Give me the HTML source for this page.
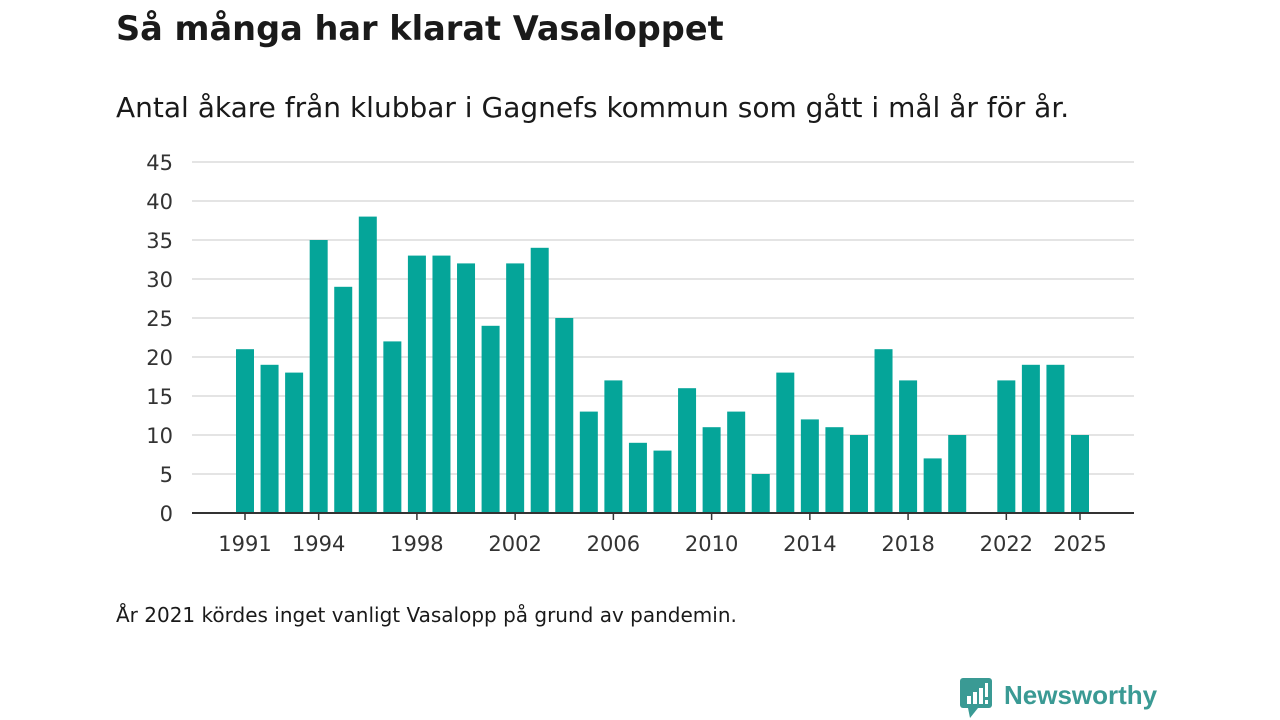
<!DOCTYPE html>
<html><head><meta charset="utf-8"><style>
body{margin:0;width:1280px;height:720px;background:#fff;font-family:"DejaVu Sans","Liberation Sans",sans-serif;color:#1a1a1a;position:relative;overflow:hidden}
#title{position:absolute;left:116px;top:9px;font-size:33.6px;font-weight:bold;margin:0}
#sub{position:absolute;left:116px;top:91px;font-size:28px;margin:0}
#note{position:absolute;left:116px;top:603px;font-size:20px}
svg{position:absolute;left:0;top:0}
#logo{position:absolute;left:960px;top:680px;font-family:"Liberation Sans",sans-serif;font-weight:bold;font-size:26px;color:#3a9a94}
</style></head><body>
<h1 id="title">Så många har klarat Vasaloppet</h1>
<p id="sub">Antal åkare från klubbar i Gagnefs kommun som gått i mål år för år.</p>
<svg id="chart" width="1280" height="720"></svg>
<div id="note">År 2021 kördes inget vanligt Vasalopp på grund av pandemin.</div>
<div id="logo"><svg width="34" height="40" style="position:absolute;left:0;top:-2px"><rect x="0" y="0" width="32" height="30" rx="3" fill="#3a9a94"/><polygon points="8,30 18,30 10,40" fill="#3a9a94"/><rect x="7" y="18" width="4" height="8" fill="#fff"/><rect x="13" y="14" width="4" height="12" fill="#fff"/><rect x="19" y="10" width="4" height="16" fill="#fff"/><rect x="25" y="5" width="3" height="14" fill="#fff"/><rect x="25" y="22" width="3" height="4" fill="#fff"/></svg><span style="margin-left:44px">Newsworthy</span></div>
<script>
const years=[1991,1992,1993,1994,1995,1996,1997,1998,1999,2000,2001,2002,2003,2004,2005,2006,2007,2008,2009,2010,2011,2012,2013,2014,2015,2016,2017,2018,2019,2020,2021,2022,2023,2024,2025];
const values=[21,19,18,35,29,38,22,33,33,32,24,32,34,25,13,17,9,8,16,11,13,5,18,12,11,10,21,17,7,10,null,17,19,19,10];
const yTicks=[0,5,10,15,20,25,30,35,40,45];
const xTicks=[1991,1994,1998,2002,2006,2010,2014,2018,2022,2025];
const NS="http://www.w3.org/2000/svg";
const svg=document.getElementById('chart');
const x=y=>245+(y-1991)*(1080-245)/34;
const yS=v=>513-v*(351/45);
function mk(t,a){const e=document.createElementNS(NS,t);for(const k in a)e.setAttribute(k,a[k]);svg.appendChild(e);return e;}
yTicks.forEach(t=>{
 const l=mk('line',{x1:192,x2:1134,y1:yS(t),y2:yS(t),stroke:'#dcdcdc','stroke-width':1.5});
 
 
 const tx=mk('text',{x:173,y:yS(t)+8,'text-anchor':'end','font-size':21,fill:'#333','font-family':'DejaVu Sans,sans-serif'});
 tx.textContent=t;
 
 
});
years.forEach((yr,i)=>{
 if(values[i]==null)return;
 const r=mk('rect',{x:x(yr)-9,y:yS(values[i]),width:18,height:yS(0)-yS(values[i]),fill:'#05a599'});
 
 
});
const ax=mk('line',{x1:192,x2:1134,y1:513,y2:513,stroke:'#333','stroke-width':2});


xTicks.forEach(t=>{
 const tk=mk('line',{x1:x(t),x2:x(t),y1:513,y2:520,stroke:'#333','stroke-width':1.5});
 
 
 const tx=mk('text',{x:x(t),y:551,'text-anchor':'middle','font-size':21,fill:'#333','font-family':'DejaVu Sans,sans-serif'});
 tx.textContent=t;
 
 
});
</script>
</body></html>
